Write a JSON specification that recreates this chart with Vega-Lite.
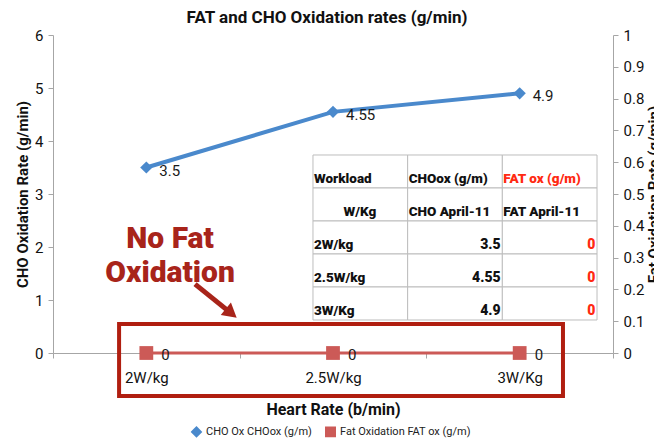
{
  "$schema": "https://vega.github.io/schema/vega-lite/v6.json",
  "width": 560,
  "height": 318,
  "autosize": {"type": "none"},
  "padding": {"left": 53, "top": 35, "right": 41, "bottom": 89},
  "background": "white",
  "title": {
    "text": "FAT and CHO Oxidation rates (g/min)",
    "font": "Roboto, Lato",
    "fontSize": 17,
    "fontWeight": "bold",
    "color": "#111111",
    "anchor": "middle",
    "offset": 1,
    "dx": -6
  },
  "datasets": {
    "series": [
      {"w": "2W/kg", "series": "CHO Ox CHOox (g/m)", "value": 3.5},
      {"w": "2.5W/kg", "series": "CHO Ox CHOox (g/m)", "value": 4.55},
      {"w": "3W/Kg", "series": "CHO Ox CHOox (g/m)", "value": 4.9},
      {"w": "2W/kg", "series": "Fat Oxidation FAT ox (g/m)", "value": 0},
      {"w": "2.5W/kg", "series": "Fat Oxidation FAT ox (g/m)", "value": 0},
      {"w": "3W/Kg", "series": "Fat Oxidation FAT ox (g/m)", "value": 0}
    ],
    "table": [
      {"row": 0, "col": 0, "text": "Workload"},
      {"row": 0, "col": 1, "text": "CHOox (g/m)"},
      {"row": 0, "col": 2, "text": "FAT ox (g/m)"},
      {"row": 1, "col": 0, "text": "W/Kg"},
      {"row": 1, "col": 1, "text": "CHO April-11"},
      {"row": 1, "col": 2, "text": "FAT April-11"},
      {"row": 2, "col": 0, "text": "2W/kg"},
      {"row": 2, "col": 1, "text": "3.5"},
      {"row": 2, "col": 2, "text": "0"},
      {"row": 3, "col": 0, "text": "2.5W/kg"},
      {"row": 3, "col": 1, "text": "4.55"},
      {"row": 3, "col": 2, "text": "0"},
      {"row": 4, "col": 0, "text": "3W/Kg"},
      {"row": 4, "col": 1, "text": "4.9"},
      {"row": 4, "col": 2, "text": "0"}
    ]
  },
  "data": {"name": "series"},
  "resolve": {
    "scale": {"x": "independent", "y": "independent"},
    "axis": {"x": "independent", "y": "independent"}
  },
  "layer": [
    {
      "transform": [{"filter": "datum.series === 'CHO Ox CHOox (g/m)'"}],
      "encoding": {
        "x": {
          "field": "w", "type": "nominal", "sort": null,
          "scale": {"type": "band", "paddingInner": 0, "paddingOuter": 0, "domain": ["2W/kg", "2.5W/kg", "3W/Kg"]},
          "axis": {
            "title": "Heart Rate (b/min)", "tickBand": "extent", "labelAngle": 0,
            "labelPadding": 12, "titlePadding": 16, "titleFontSize": 16
          }
        },
        "y": {
          "field": "value", "type": "quantitative",
          "scale": {"domain": [0, 6], "nice": false},
          "axis": {"title": "CHO Oxidation Rate (g/min)", "orient": "left", "values": [0, 1, 2, 3, 4, 5, 6], "titlePadding": 4, "titleFontSize": 15}
        },
        "color": {
          "field": "series", "type": "nominal",
          "scale": {"domain": ["CHO Ox CHOox (g/m)", "Fat Oxidation FAT ox (g/m)"], "range": ["#4a89cc", "#cc5a57"]},
          "legend": {
            "title": null, "orient": "none", "direction": "horizontal",
            "legendX": 138, "legendY": 391, "labelFontSize": 11, "symbolSize": 90,
            "columnSpacing": 58, "labelFont": "Roboto, Lato", "labelColor": "#222222"
          }
        },
        "shape": {
          "field": "series", "type": "nominal",
          "scale": {"domain": ["CHO Ox CHOox (g/m)", "Fat Oxidation FAT ox (g/m)"], "range": ["diamond", "square"]},
          "legend": null
        }
      },
      "layer": [
        {"mark": {"type": "line", "strokeWidth": 4}},
        {"mark": {"type": "point", "filled": true, "size": 150, "opacity": 1}},
        {"mark": {"type": "text", "align": "left", "dx": 13, "dy": 3, "fontSize": 15, "font": "Roboto, Lato"},
         "encoding": {"text": {"field": "value", "type": "nominal"}, "color": {"value": "#1a1a1a"}, "shape": {"value": "circle"}}}
      ]
    },
    {
      "transform": [{"filter": "datum.series === 'Fat Oxidation FAT ox (g/m)'"}],
      "encoding": {
        "x": {
          "field": "w", "type": "nominal", "sort": null,
          "scale": {"type": "band", "paddingInner": 0, "paddingOuter": 0, "domain": ["2W/kg", "2.5W/kg", "3W/Kg"]},
          "axis": null
        },
        "y": {
          "field": "value", "type": "quantitative",
          "scale": {"domain": [0, 1], "nice": false},
          "axis": {"title": "Fat Oxidation Rate (g/min)", "orient": "right", "format": "~g", "values": [0, 0.1, 0.2, 0.3, 0.4, 0.5, 0.6, 0.7, 0.8, 0.9, 1], "titleAngle": -90, "titlePadding": 18, "titleFontSize": 15}
        },
        "color": {"field": "series", "type": "nominal"},
        "shape": {"field": "series", "type": "nominal"}
      },
      "layer": [
        {"mark": {"type": "line", "strokeWidth": 3}},
        {"mark": {"type": "point", "filled": true, "size": 190, "opacity": 1}},
        {"mark": {"type": "text", "align": "left", "dx": 15, "dy": 2, "fontSize": 15, "font": "Roboto, Lato"},
         "encoding": {"text": {"field": "value", "type": "nominal"}, "color": {"value": "#1a1a1a"}, "shape": {"value": "circle"}}}
      ]
    },
    {
      "layer": [
        {
          "data": {"values": [{"x0": 0.354, "x1": 2.732, "y0": 0.547, "y1": -0.811}]},
          "mark": {"type": "rect", "fill": null, "stroke": "#b01e10", "strokeWidth": 4},
          "encoding": {
            "x": {"field": "x0", "type": "quantitative", "scale": {"domain": [0, 3], "nice": false, "zero": false}, "axis": null},
            "x2": {"field": "x1"},
            "y": {"field": "y0", "type": "quantitative", "scale": {"domain": [0, 6], "nice": false, "zero": false}, "axis": null},
            "y2": {"field": "y1"}
          }
        },
        {
          "data": {"values": [{"x": 0.627, "y": 2.15, "label": "No Fat\nOxidation"}]},
          "mark": {"type": "text", "lineBreak": "\n", "fontSize": 30, "fontWeight": 900, "font": "Roboto, Lato", "color": "#a8241a", "align": "center", "baseline": "middle", "lineHeight": 34},
          "encoding": {
            "x": {"field": "x", "type": "quantitative"},
            "y": {"field": "y", "type": "quantitative"},
            "text": {"field": "label"}
          }
        },
        {
          "data": {"values": [{"x0": 0.761, "y0": 1.3, "x1": 0.94, "y1": 0.79}]},
          "mark": {"type": "rule", "stroke": "#a8241a", "strokeWidth": 5},
          "encoding": {
            "x": {"field": "x0", "type": "quantitative"},
            "y": {"field": "y0", "type": "quantitative"},
            "x2": {"field": "x1"},
            "y2": {"field": "y1"}
          }
        },
        {
          "data": {"values": [{"x": 0.955, "y": 0.75}]},
          "mark": {"type": "point", "shape": "triangle-right", "filled": true, "color": "#a8241a", "size": 260, "angle": 39, "opacity": 1},
          "encoding": {
            "x": {"field": "x", "type": "quantitative"},
            "y": {"field": "y", "type": "quantitative"}
          }
        }
      ]
    },
    {
      "data": {"name": "table"},
      "encoding": {
        "x": {"field": "col", "type": "quantitative", "scale": {"domain": [-2.746, 3.169], "nice": false, "zero": false}, "axis": null},
        "y": {"field": "row", "type": "quantitative", "scale": {"domain": [-3.636, 6.0], "nice": false, "zero": false, "reverse": true}, "axis": null}
      },
      "layer": [
        {
          "mark": {"type": "rect", "fill": "white", "stroke": "#bdbdbd", "strokeWidth": 1, "width": 94.7, "height": 33, "align": "left", "baseline": "top"}
        },
        {
          "transform": [{"filter": "!(datum.row >= 2 && datum.col >= 1) && !(datum.row == 1 && datum.col == 0)"}],
          "mark": {"type": "text", "align": "left", "baseline": "alphabetic", "dx": 1, "dy": 28, "fontSize": 13.5, "fontWeight": 900, "font": "Roboto, Arial"},
          "encoding": {
            "text": {"field": "text"},
            "color": {"condition": {"test": "datum.col == 2 && datum.row != 1", "value": "#ff2a12"}, "value": "#111111"}
          }
        },
        {
          "transform": [{"filter": "datum.row == 1 && datum.col == 0"}],
          "mark": {"type": "text", "align": "center", "baseline": "alphabetic", "dx": 47, "dy": 28, "fontSize": 13.5, "fontWeight": 900, "font": "Roboto, Arial", "color": "#111111"},
          "encoding": {"text": {"field": "text"}}
        },
        {
          "transform": [{"filter": "datum.row >= 2 && datum.col >= 1"}],
          "mark": {"type": "text", "align": "right", "baseline": "alphabetic", "dx": 93, "dy": 28, "fontSize": 14, "fontWeight": 900, "font": "Roboto, Arial"},
          "encoding": {
            "text": {"field": "text"},
            "color": {"condition": {"test": "datum.col == 2", "value": "#ff2a12"}, "value": "#111111"}
          }
        }
      ]
    }
  ],
  "config": {
    "view": {"stroke": null},
    "font": "Roboto, Lato",
    "axis": {
      "domainColor": "#a6a6a6",
      "tickColor": "#a6a6a6",
      "tickSize": 5,
      "grid": false,
      "labelFont": "Roboto, Lato",
      "labelFontSize": 15,
      "labelColor": "#111111",
      "titleFont": "Roboto, Lato",
      "titleFontWeight": "bold",
      "titleColor": "#111111",
      "labelPadding": 5
    }
  }
}
